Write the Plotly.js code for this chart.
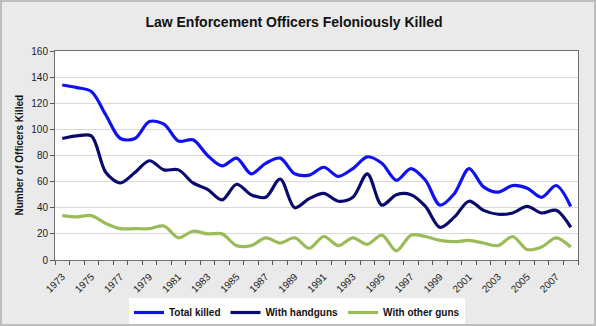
<!DOCTYPE html>
<html>
<head>
<meta charset="utf-8">
<script src="https://cdn.plot.ly/plotly-3.0.1.min.js"></script>
<style>
html,body{margin:0;padding:0;background:#eaeaea;}
#wrap{width:596px;height:326px;box-sizing:border-box;border:2px solid #bdbdbd;overflow:hidden;}
#chart{width:592px;height:322px;}
</style>
</head>
<body>
<div id="wrap"><div id="chart"></div></div>
<script>
const years = [1973,1974,1975,1976,1977,1978,1979,1980,1981,1982,1983,1984,1985,1986,1987,1988,1989,1990,
               1991,1992,1993,1994,1995,1996,1997,1998,1999,2000,2001,2002,2003,2004,2005,2006,2007,2008];
const totalKilled = [134,132,129,111,93,93,106,104,91,92,80,72,78,66,74,78,66,65,
                     71,64,70,79,74,61,70,61,42,51,70,56,52,57,55,48,57,41];
const withHandguns = [93,95,95,67,59,67,76,69,69,59,54,46,58,50,48,62,40,47,
                      51,45,48,66,42,50,50,41,25,33,45,38,35,36,41,36,38,25];
const withOtherGuns = [34,33,34,28,24,24,24,26,17,22,20,20,11,11,17,13,17,9,
                       18,11,17,12,19,7,19,18,15,14,15,13,11,18,8,10,17,10];
const tickYears = [1973,1975,1977,1979,1981,1983,1985,1987,1989,1991,1993,1995,1997,1999,2001,2003,2005,2007];
const seriesNames = ["Total killed","With handguns","With other guns"];
const seriesColors = ["#1010f5","#0a0a6e","#9bbb59"];

const F = "Arial, 'Liberation Sans', sans-serif";
const mk = (y, i) => ({
  x: years, y: y, type: "scatter", mode: "lines", name: seriesNames[i],
  line: {color: seriesColors[i], width: 3.2, shape: "spline", smoothing: 0.9}
});
const data = [mk(totalKilled,0), mk(withHandguns,1), mk(withOtherGuns,2)];

const W = 592, H = 322;
const layout = {
  width: W, height: H,
  paper_bgcolor: "#eaeaea", plot_bgcolor: "#ffffff",
  margin: {l: 53, r: 16, t: 49, b: 64, pad: 0},
  title: {text: "<b>Law Enforcement Officers Feloniously Killed</b>",
          font: {family: F, size: 14, color: "#111"},
          x: 292/W, xref: "container", xanchor: "center",
          y: 1 - 20/H, yref: "container", yanchor: "middle"},
  xaxis: {
    range: [years[0]-0.5, years[years.length-1]+0.5],
    tickvals: tickYears, ticktext: tickYears.map(String),
    tickangle: -45, ticks: "", showgrid: false, zeroline: false,
    ticklabelstandoff: 6,
    tickfont: {family: F, size: 10, color: "#222"},
    showline: true, linecolor: "#707070", linewidth: 1, mirror: true,
    minor: {tick0: years[0]-0.5, dtick: 1, ticks: "outside", ticklen: 4, tickcolor: "#555", showgrid: false}
  },
  yaxis: {
    range: [0, 160], dtick: 20, ticks: "outside", ticklen: 4, tickcolor: "#555",
    tickfont: {family: F, size: 10, color: "#222"},
    showgrid: true, gridcolor: "#d9d9d9", gridwidth: 1, zeroline: false,
    showline: true, linecolor: "#707070", linewidth: 1, mirror: true
  },
  annotations: [{
    text: "<b>Number of Officers Killed</b>", textangle: -90,
    xref: "paper", yref: "paper", x: -(53-17)/523, y: 0.5,
    xanchor: "center", yanchor: "middle", showarrow: false,
    font: {family: F, size: 10, color: "#111"}
  }],
  legend: {
    orientation: "h", xref: "container", yref: "container",
    x: 295/W, xanchor: "center", y: 1 - 296/H, yanchor: "top",
    bgcolor: "#ffffff", borderwidth: 0,
    font: {family: F, size: 10, color: "#111", weight: "bold"},
    itemwidth: 30, tracegroupgap: 0
  },
  showlegend: true
};
Plotly.newPlot("chart", data, layout, {displayModeBar: false, staticPlot: true});
</script>
</body>
</html>
